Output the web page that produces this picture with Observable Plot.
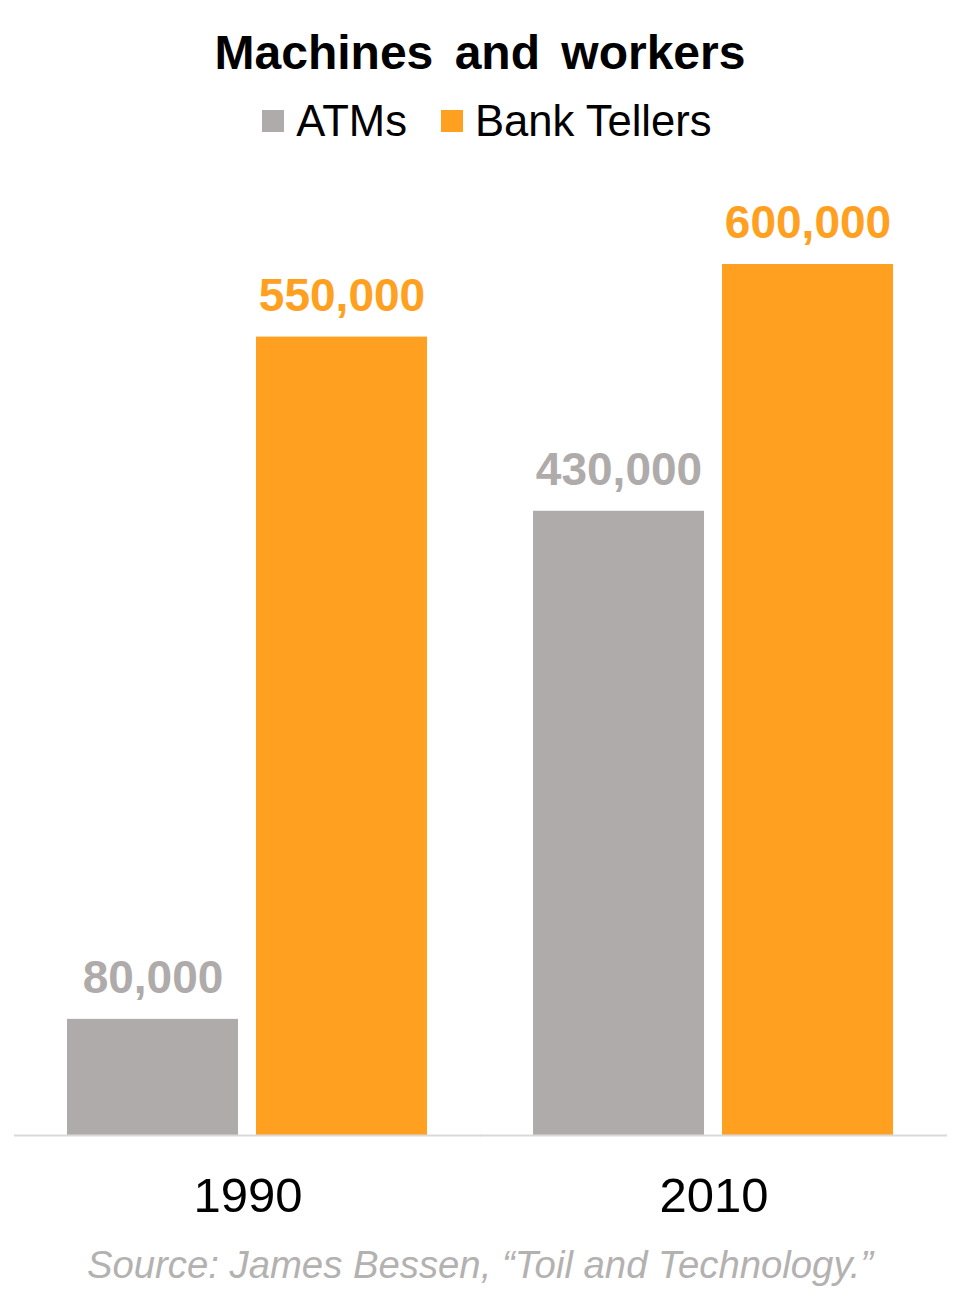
<!DOCTYPE html>
<html>
<head>
<meta charset="utf-8">
<script src="https://cdn.jsdelivr.net/npm/d3@7"></script>
<script src="https://cdn.jsdelivr.net/npm/@observablehq/plot@0.6"></script>
<style>
  html, body { margin: 0; padding: 0; background: #fff; }
  body { width: 960px; font-family: "Liberation Sans", Arial, sans-serif; }
  #title { height: 106px; line-height: 106px; text-align: center; font-weight: bold; font-size: 48px; color: #000; word-spacing: 8px; }
  #legend { height: 30px; display: flex; justify-content: center; align-items: center; font-size: 43.6px; color: #000; padding-left: 14px; }
  .item { display: flex; align-items: center; margin: 0 17px; }
  .sw { width: 22px; height: 22px; margin-right: 12px; }
  #chart svg { display: block; }
  #source { margin-top: 15px; height: 50px; line-height: 50px; text-align: center; font-style: italic; font-size: 38.3px; color: #B4B1B1; }
</style>
</head>
<body>
<div id="title">Machines and workers</div>
<div id="legend"></div>
<div id="chart"></div>
<div id="source">Source: James Bessen, “Toil and Technology.”</div>
<script>
const years = ["1990", "2010"];
const series = ["ATMs", "Bank Tellers"];
const atms = [80000, 430000];
const tellers = [550000, 600000];
const colors = ["#AFABAB", "#FFA021"];

const rows = [];
years.forEach((yr, i) => {
  rows.push({year: yr, series: series[0], value: atms[i]});
  rows.push({year: yr, series: series[1], value: tellers[i]});
});

const legend = document.getElementById("legend");
series.forEach((s, i) => {
  const it = document.createElement("div");
  it.className = "item";
  const sw = document.createElement("div");
  sw.className = "sw";
  sw.style.background = colors[i];
  const t = document.createElement("span");
  t.textContent = s;
  it.appendChild(sw);
  it.appendChild(t);
  legend.appendChild(it);
});

const fmt = d3.format(",");

const chart = Plot.plot({
  width: 960,
  height: 1089,
  marginTop: 128,
  marginBottom: 90,
  marginLeft: 67,
  marginRight: 66,
  style: {fontFamily: "'Liberation Sans', Arial, sans-serif", color: "#000", background: "#fff"},
  fx: {domain: years, paddingInner: 0.226, paddingOuter: 0, label: null},
  x: {domain: series, paddingInner: 0.095, paddingOuter: 0, axis: null},
  y: {domain: [0, 600000], axis: null},
  color: {domain: series, range: colors},
  marks: [
    Plot.barY(rows, {fx: "year", x: "series", y: "value", fill: "series"}),
    Plot.ruleY([0], {stroke: "#D9D9D9", strokeWidth: 2, insetLeft: -53, insetRight: -53}),
    Plot.text(rows, {fx: "year", x: "series", y: "value", text: d => fmt(d.value), fill: "series", dy: -41, fontSize: 46, fontWeight: "bold"}),
    Plot.axisFx({anchor: "bottom", tickSize: 0, tickPadding: 42, fontSize: 49, label: null})
  ]
});
document.getElementById("chart").appendChild(chart);
</script>
</body>
</html>
